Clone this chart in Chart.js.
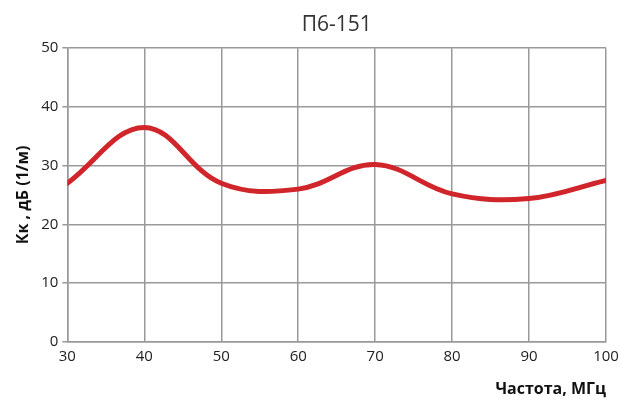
<!DOCTYPE html>
<html>
<head>
<meta charset="utf-8">
<script src="https://cdn.jsdelivr.net/npm/chart.js@4/dist/chart.umd.min.js"></script>
<style>
  html, body { margin: 0; padding: 0; background: #fff; }
  #box { width: 621px; height: 403px; }
</style>
</head>
<body>
<div id="box"><canvas id="grafico"></canvas></div>
<script>
const titulo = "П6-151";
const frecuencias = [30, 40, 50, 60, 70, 80, 90, 100];
const kk = [27.0, 36.5, 27.0, 26.0, 30.2, 25.2, 24.4, 27.5];
const ejeX = "Частота, МГц";
const ejeY = "Кк , дБ (1/м)";

const puntos = frecuencias.map((f, i) => ({ x: f, y: kk[i] }));

const ctx = document.getElementById("grafico").getContext("2d");
new Chart(ctx, {
  type: "line",
  data: {
    datasets: [{
      data: puntos,
      borderColor: "#d0252b",
      borderWidth: 5,
      pointRadius: 0,
      tension: 0.38,
      borderCapStyle: "round"
    }]
  },
  options: {
    responsive: true,
    maintainAspectRatio: false,
    animation: false,
    layout: { padding: { left: 10, right: 15, top: 8, bottom: 2 } },
    scales: {
      x: {
        type: "linear",
        min: 30,
        max: 100,
        afterFit: (s) => { s.paddingRight = 0; },
        ticks: { stepSize: 10, color: "#222", font: { family: "Open Sans", size: 15 }, padding: 6 },
        grid: { color: "#999", lineWidth: 1.5, drawTicks: false },
        border: { color: "#999", width: 1.5 },
        title: {
          display: true,
          text: ejeX,
          align: "end",
          color: "#111",
          font: { family: "Open Sans", size: 16, weight: "bold" },
          padding: { top: 8, bottom: 2 }
        }
      },
      y: {
        min: 0,
        max: 50,
        ticks: { stepSize: 10, color: "#222", font: { family: "Open Sans", size: 15 }, padding: 4 },
        grid: { color: "#999", lineWidth: 1.5, tickLength: 5 },
        border: { color: "#999", width: 1.5 },
        title: {
          display: true,
          text: ejeY,
          color: "#111",
          font: { family: "Open Sans", size: 16, weight: "bold" },
          padding: { bottom: 4 }
        }
      }
    },
    plugins: {
      legend: { display: false },
      tooltip: { enabled: false },
      title: {
        display: true,
        text: titulo,
        fullSize: false,
        color: "#333",
        font: { family: "Open Sans", size: 21, weight: "normal" },
        padding: { top: 4, bottom: 11 }
      }
    }
  }
});
</script>
</body>
</html>
